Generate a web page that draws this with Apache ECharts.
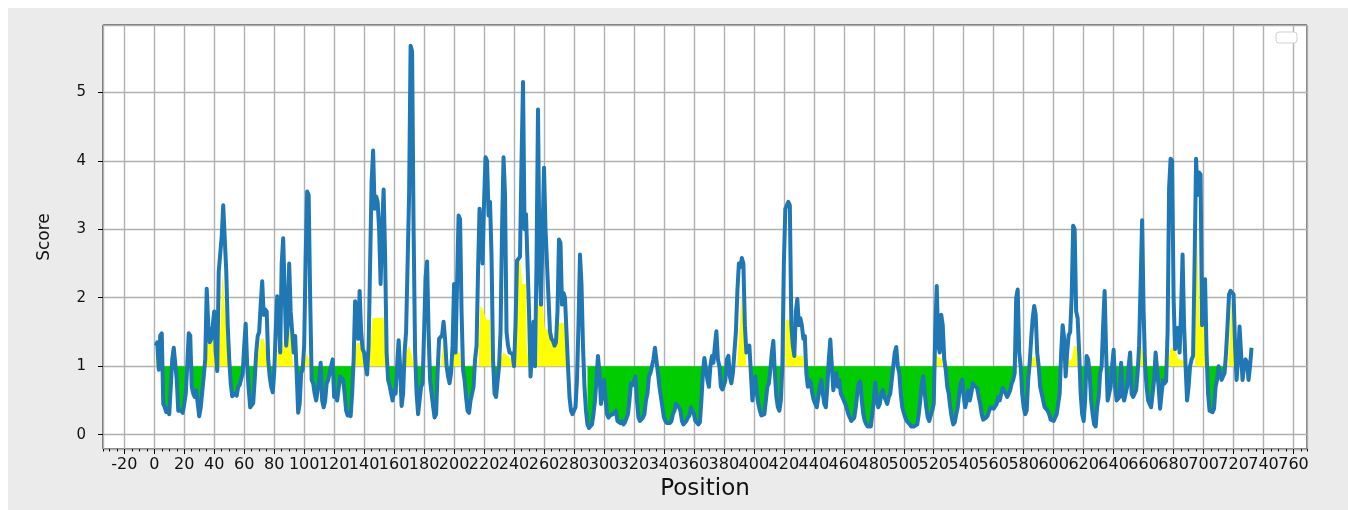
<!DOCTYPE html>
<html>
<head>
<meta charset="utf-8">
<title>Score by position</title>
<script src="https://cdn.jsdelivr.net/npm/echarts@6/dist/echarts.min.js"></script>
<style>
html, body { margin: 0; padding: 0; background: #ebebeb; }
#main { width: 1348px; height: 510px; }
</style>
</head>
<body>
<div id="main"></div>
<script type="text/javascript">
// first position of the score track
var startPos = 1;

// score per position
var scores = [
    1.3,1.35,0.95,1.45,1.48,0.45,0.4,0.33,0.38,0.3,
    0.7,1.1,1.27,1.25,0.8,0.35,0.33,0.35,0.32,0.45,
    0.6,1.0,1.48,1.45,0.7,0.6,0.55,0.65,0.45,0.27,
    0.4,0.38,0.85,1.1,2.13,1.6,1.35,1.4,1.6,1.8,
    1.2,0.93,2.38,2.4,2.9,3.35,3.37,2.4,1.6,1.1,
    0.75,0.56,0.55,0.6,0.57,0.7,0.73,0.72,0.9,1.3,
    1.62,1.0,0.66,0.4,0.42,0.46,0.8,1.2,1.44,1.5,
    1.9,2.24,1.75,1.83,1.8,1.1,0.85,0.7,0.62,0.9,
    1.5,2.02,1.9,1.2,2.5,2.87,2.86,1.3,1.6,2.5,
    1.8,1.78,1.2,1.44,0.9,0.32,0.45,0.9,0.95,1.3,
    2.6,3.55,3.5,2.0,0.8,0.75,0.6,0.5,0.52,0.8,
    1.05,0.5,0.4,0.5,0.75,0.8,0.82,1.0,1.1,0.55,
    0.6,0.5,0.48,0.85,0.85,0.8,0.6,0.35,0.28,0.32,
    0.27,0.6,1.1,1.95,1.97,1.4,2.1,1.5,1.25,1.2,
    1.0,0.88,1.3,2.5,3.7,4.15,3.3,3.48,3.4,3.0,
    2.2,3.0,3.58,2.6,1.2,0.8,0.72,0.6,0.5,0.65,
    0.6,1.0,1.38,1.0,0.42,0.6,1.2,1.5,1.5,3.5,
    5.68,5.6,3.0,1.2,0.6,0.3,0.28,0.7,0.75,1.5,
    2.3,2.53,1.5,0.8,0.6,0.42,0.25,0.3,0.9,1.4,
    1.38,1.45,1.65,1.4,1.0,0.85,0.75,0.9,1.3,2.2,
    1.2,2.2,3.2,3.15,1.8,0.95,0.8,0.55,0.35,0.32,
    0.5,0.6,0.7,1.1,1.3,2.4,3.3,3.3,2.5,3.4,
    4.05,4.0,3.2,3.4,2.6,1.1,0.6,0.55,0.54,1.0,
    1.5,3.0,4.05,3.5,1.5,1.3,1.2,1.2,1.18,1.0,
    1.6,2.54,2.55,2.6,4.0,5.15,3.0,3.22,3.2,1.8,
    0.85,1.2,1.65,1.0,2.5,4.75,2.5,1.9,2.9,3.9,
    3.0,3.02,2.0,1.5,1.4,1.37,1.3,1.35,1.8,2.85,
    2.8,1.9,2.07,2.0,1.5,1.0,0.55,0.35,0.3,0.29,
    0.4,0.8,1.6,2.63,2.2,1.3,0.7,0.35,0.15,0.1,
    0.12,0.15,0.3,0.5,0.8,1.15,0.9,0.45,0.6,0.8,
    0.55,0.3,0.25,0.28,0.27,0.3,0.28,0.35,0.2,0.18,
    0.17,0.2,0.15,0.18,0.2,0.3,0.5,0.75,0.72,0.78,
    0.85,0.5,0.25,0.2,0.18,0.25,0.3,0.5,0.6,0.85,
    0.9,0.88,1.1,1.27,1.25,0.9,0.7,0.55,0.4,0.25,
    0.2,0.17,0.15,0.17,0.2,0.3,0.35,0.45,0.46,0.4,
    0.35,0.2,0.15,0.17,0.2,0.25,0.28,0.4,0.42,0.3,
    0.2,0.18,0.15,0.18,0.5,0.9,1.12,1.1,0.8,0.7,
    1.0,1.15,1.05,1.3,1.51,1.1,1.0,0.7,0.66,0.72,
    0.8,1.1,1.15,0.85,0.75,0.9,1.2,1.5,2.1,2.5,
    2.45,2.58,2.5,1.6,1.2,1.25,1.3,0.9,0.5,0.7,
    0.85,0.6,0.45,0.35,0.28,0.27,0.3,0.5,0.7,0.75,
    0.95,1.2,1.37,0.9,0.55,0.4,0.35,0.5,1.0,2.5,
    3.3,3.3,3.4,3.35,1.6,1.3,1.15,1.8,1.98,1.6,
    1.7,1.6,1.4,1.44,0.9,0.7,0.8,0.75,0.6,0.5,
    0.45,0.4,0.55,0.7,0.8,0.6,0.45,0.4,0.7,1.1,
    1.39,1.0,0.65,0.8,0.9,0.7,0.8,0.6,0.55,0.5,
    0.45,0.38,0.3,0.25,0.2,0.18,0.25,0.4,0.6,0.75,
    0.78,0.5,0.3,0.2,0.15,0.12,0.1,0.12,0.3,0.5,
    0.76,0.5,0.4,0.45,0.6,0.65,0.55,0.5,0.45,0.55,
    0.6,0.8,1.0,1.2,1.28,1.0,0.9,0.6,0.4,0.32,
    0.25,0.2,0.18,0.15,0.12,0.1,0.12,0.12,0.15,0.3,
    0.5,0.75,0.85,0.6,0.4,0.25,0.2,0.28,0.35,0.45,
    1.5,2.17,1.3,1.2,1.75,1.6,1.1,0.95,0.7,0.6,
    0.4,0.25,0.15,0.18,0.3,0.4,0.6,0.75,0.8,0.55,
    0.4,0.5,0.65,0.5,0.6,0.75,0.72,0.7,0.68,0.55,
    0.45,0.3,0.22,0.2,0.25,0.28,0.35,0.4,0.42,0.38,
    0.4,0.45,0.55,0.5,0.6,0.68,0.7,0.6,0.55,0.6,
    0.65,0.75,0.8,0.9,2.0,2.12,1.2,1.0,0.6,0.4,
    0.3,0.35,0.8,1.05,1.4,1.7,1.88,1.75,1.2,1.0,
    0.7,0.6,0.5,0.4,0.38,0.35,0.3,0.22,0.2,0.2,
    0.22,0.3,0.3,0.6,1.2,1.6,1.4,0.85,1.2,1.45,
    1.5,2.0,3.05,3.0,1.8,1.7,1.2,0.6,0.3,0.2,
    0.5,1.15,1.1,0.9,0.5,0.3,0.15,0.12,0.4,0.55,
    0.9,1.0,1.6,2.1,1.2,0.5,0.5,0.7,1.0,1.24,
    0.7,0.5,0.52,0.55,1.05,0.6,0.5,0.48,0.7,1.0,
    1.2,0.6,0.55,0.6,0.65,0.9,1.3,2.2,3.13,1.8,
    1.0,0.7,0.5,0.45,0.4,0.38,0.8,1.2,1.2,0.7,
    0.38,0.6,0.8,0.75,0.78,1.5,3.6,4.03,4.0,2.0,
    1.25,1.4,1.56,1.2,1.8,2.63,1.6,1.0,0.5,0.7,
    1.0,1.1,1.15,2.5,4.03,3.5,3.83,3.8,1.6,1.7,
    2.27,1.2,0.6,0.35,0.34,0.33,0.38,0.7,0.8,1.0,
    0.9,0.8,0.85,0.9,1.2,1.6,2.05,2.1,2.1,2.05,
    1.3,0.8,1.1,1.58,1.2,0.8,1.0,1.1,1.05,0.8,
    1.0,1.27
];

// top edge of the yellow (above threshold) fill
var yellowTop = [
    [1,1.17],[2,1.2],[4.5,1.15],[5,1], [5,'-'],
    [35,1.3],[37,1.38],[39,1.4],[40.5,1.2],[41,1], [41,'-'],
    [43,1.1],[44,1.5],[45.5,2.37],[46.5,2.37],[48,1.6],[49.5,1.05], [50,'-'],
    [69,1.1],[71,1.4],[73,1.4],[75,1.2],[76,1], [76,'-'],
    [82,1.1],[83,1.4],[85,1.4],[87,1.25],[89,1.55],[91,1.5],[92.5,1], [93,'-'],
    [100,1.05],[102,1.2],[104,1], [104,'-'],
    [134,1.2],[135,1.34],[138,1.34],[139.5,1.1],[140,1], [140,'-'],
    [144,1.2],[145.5,1.7],[153,1.71],[155,1.2],[156,1], [156,'-'],
    [168,1.2],[170,1.3],[172,1.15],[173,1], [173,'-'],
    [191.5,1.1],[193,1.35],[194.5,1.2],[195,1], [195,'-'],
    [199.5,1.1],[201,1.2],[204,1.2],[204.5,1], [205,'-'],
    [216.5,1.3],[217.5,1.88],[219,1.85],[221.5,1.68],[224,1.68],[224.5,1.2],[225,1], [225,'-'],
    [231,1.1],[233,1.2],[236,1.15],[240,1.05],[241,1.1],[242,2.5],[244,2.56],[245.5,2.2],[248,2.2],[248.5,1.3],[250,1], [250,'-'],
    [252,1.05],[254,1.05],[255.5,1.1],[256,1.9],[259,1.93],[260.5,1.54],[265,1.54],[267,1.35],[270,1.63],[275,1.63],[275.5,1], [276,'-'],
    [389,1.05],[390,1.4],[392,2.07],[393.5,1.5],[395,1], [395,'-'],
    [421,1.2],[421.3,1.68],[424,1.68],[428.4,1.15],[433,1.15],[433.5,1], [434,'-'],
    [522,1.15],[525.5,1.1], [526,'-'],
    [584.5,1.1],[587,1.15],[589,1.05], [589,'-'],
    [608,1.05],[612,1.1],[613.5,1.29],[615.5,1.29],[616,1], [616,'-'],
    [657,1.15],[658.5,1.3],[660,1.1], [660,'-'],
    [676.7,1.1],[678,1.27],[681,1.25],[683,1.1],[688.9,1.07], [689,'-'],
    [694.4,1.2],[695.5,3.02],[697.5,1.6],[701,1.6],[701.5,1], [702,'-'],
    [716.7,1.1],[718.5,1.93],[720,1.9],[721,1.1]
];

// position ranges where the plot shows no green fill below the threshold
var greenGaps = [[277, 288]];

var threshold = 1;

function inGap(p) {
    for (var k = 0; k < greenGaps.length; k++) {
        if (p >= greenGaps[k][0] && p <= greenGaps[k][1]) return true;
    }
    return false;
}

var lineData = scores.map(function (v, i) { return [startPos + i, v]; });
var greenData = scores.map(function (v, i) {
    var p = startPos + i;
    return [p, (v < threshold && !inGap(p)) ? v : '-'];
});

var myChart = echarts.init(document.getElementById('main'));

var labelFont = 'DejaVu Sans';
var xMin = -34.2, xMax = 769.0;

var option = {
    animation: false,
    backgroundColor: '#ebebeb',
    grid: {
        left: 103, right: 41, top: 25, bottom: 61,
        show: true,
        backgroundColor: '#ffffff',
        borderColor: '#000000',
        borderWidth: 1
    },
    graphic: [
        { type: 'rect', shape: { x: 0, y: 0, width: 1348, height: 8 }, style: { fill: '#ffffff' }, silent: true },
        { type: 'rect', shape: { x: 0, y: 0, width: 8, height: 510 }, style: { fill: '#ffffff' }, silent: true },
        // empty legend box
        { type: 'rect', z: 100, shape: { x: 1276, y: 32, width: 21, height: 11, r: 3 },
          style: { fill: '#ffffff', stroke: '#d0d0d0', lineWidth: 1 }, silent: true }
    ],
    xAxis: [
        {
            type: 'value',
            min: xMin, max: xMax,
            minInterval: 20, maxInterval: 20, splitNumber: 40,
            position: 'bottom',
            axisLine: { show: false, onZero: false },
            axisTick: { show: true, length: 5, lineStyle: { color: '#000', width: 1 } },
            axisLabel: {
                showMinLabel: false, showMaxLabel: false, hideOverlap: false,
                margin: 8, fontSize: 16, color: '#111', fontFamily: labelFont
            },
            splitLine: { show: true, lineStyle: { color: '#b0b0b0', width: 1.4 } },
            name: 'Position',
            nameLocation: 'middle',
            nameGap: 29,
            nameTextStyle: { fontSize: 23, color: '#111', fontFamily: labelFont }
        },
        {
            type: 'value',
            min: xMin, max: xMax,
            minInterval: 5, maxInterval: 5, splitNumber: 160,
            position: 'bottom',
            axisLine: { show: false, onZero: false },
            axisTick: { show: true, length: 2.5, lineStyle: { color: '#000', width: 1 } },
            axisLabel: { show: false },
            splitLine: { show: false }
        }
    ],
    yAxis: {
        type: 'value',
        min: -0.209, max: 5.983,
        minInterval: 1, maxInterval: 1, splitNumber: 6,
        position: 'left',
        axisLine: { show: false, onZero: false },
        axisTick: { show: true, length: 5, lineStyle: { color: '#000', width: 1 } },
        axisLabel: {
            showMinLabel: false, showMaxLabel: false,
            margin: 17, fontSize: 15, color: '#111', fontFamily: labelFont
        },
        splitLine: { show: true, lineStyle: { color: '#b0b0b0', width: 1.4 } },
        name: 'Score',
        nameLocation: 'middle',
        nameGap: 50,
        nameTextStyle: { fontSize: 17, color: '#111', fontFamily: labelFont }
    },
    series: [
        {
            name: 'below',
            type: 'line',
            data: greenData,
            showSymbol: false,
            symbol: 'none',
            silent: true,
            connectNulls: false,
            lineStyle: { width: 0, opacity: 0 },
            areaStyle: { color: '#00cc00', opacity: 1, origin: threshold },
            z: 2
        },
        {
            name: 'above',
            type: 'line',
            data: yellowTop,
            showSymbol: false,
            symbol: 'none',
            silent: true,
            connectNulls: false,
            lineStyle: { width: 0, opacity: 0 },
            areaStyle: { color: '#ffff00', opacity: 1, origin: threshold },
            z: 2
        },
        {
            name: 'Score',
            type: 'line',
            data: lineData,
            showSymbol: false,
            symbol: 'none',
            silent: true,
            lineStyle: { color: '#1f77b4', width: 4, join: 'round' },
            z: 3
        }
    ]
};

myChart.setOption(option);
</script>
</body>
</html>
